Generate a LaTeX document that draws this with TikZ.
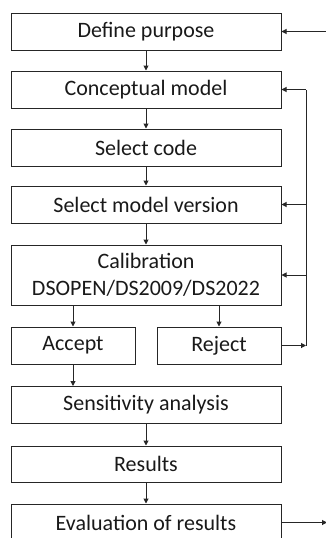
\documentclass[tikz,border=0pt]{standalone}
\usepackage{fontspec}
\setmainfont{Carlito}
\usetikzlibrary{arrows.meta}
\begin{document}
\begin{tikzpicture}[x=1pt,y=-1pt,
  box/.style={draw=black!85,line width=1pt,rectangle,minimum height=37pt,inner sep=0pt,
    font=\fontsize{22}{26.5}\selectfont,text=black!90},
  wide/.style={box,minimum width=270pt},
  half/.style={box,minimum width=124pt},
  conn/.style={draw=black!85,line width=1pt,-{Triangle[length=5pt,width=5pt]}},
  ln/.style={draw=black!85,line width=1pt}]
\useasboundingbox (0,0) rectangle (326,538);
\clip (0,0) rectangle (326,538);
\node[wide] (def) at (146,31.5) {Define purpose};
\node[wide] (con) at (146,89.5) {Conceptual model};
\node[wide] (code) at (146,147.5) {Select code};
\node[wide] (ver) at (146,204.5) {Select model version};
\node[wide,minimum height=60pt,align=center] (cal) at (146,275) {Calibration\\DSOPEN/DS2009/DS2022};
\node[half] (acc) at (73,345.5) {Accept};
\node[half] (rej) at (219,345.5) {Reject};
\node[wide] (sen) at (146,405) {Sensitivity analysis};
\node[wide,minimum height=36pt] (res) at (146,464) {Results};
\node[wide] (eva) at (146,522.5) {Evaluation of results};
\coordinate (topin) at (326,31.5);
\coordinate (evout) at (327,522.5);
\coordinate (fbtop) at (306,89.5);
\coordinate (fbver) at (306,204.5);
\coordinate (fbcal) at (306,275);
\coordinate (fbbot) at (306,345.5);
\path[conn] (topin) -- (def.east);
\path[conn] (def) -- (con);
\path[conn] (con) -- (code);
\path[conn] (code) -- (ver);
\path[conn] (ver) -- (cal);
\path[conn] (cal.south -| acc) -- (acc);
\path[conn] (cal.south -| rej) -- (rej);
\path[conn] (acc.south) -- (acc.south |- sen.north);
\path[conn] (sen) -- (res);
\path[conn] (res) -- (eva);
\path[conn] (rej.east) -- (fbbot);
\path[ln] (fbbot) -- (fbtop);
\path[conn] (fbtop) -- (con.east);
\path[conn] (fbver) -- (ver.east);
\path[conn] (fbcal) -- (cal.east);
\path[conn] (eva.east) -- (evout);
\end{tikzpicture}
\end{document}
